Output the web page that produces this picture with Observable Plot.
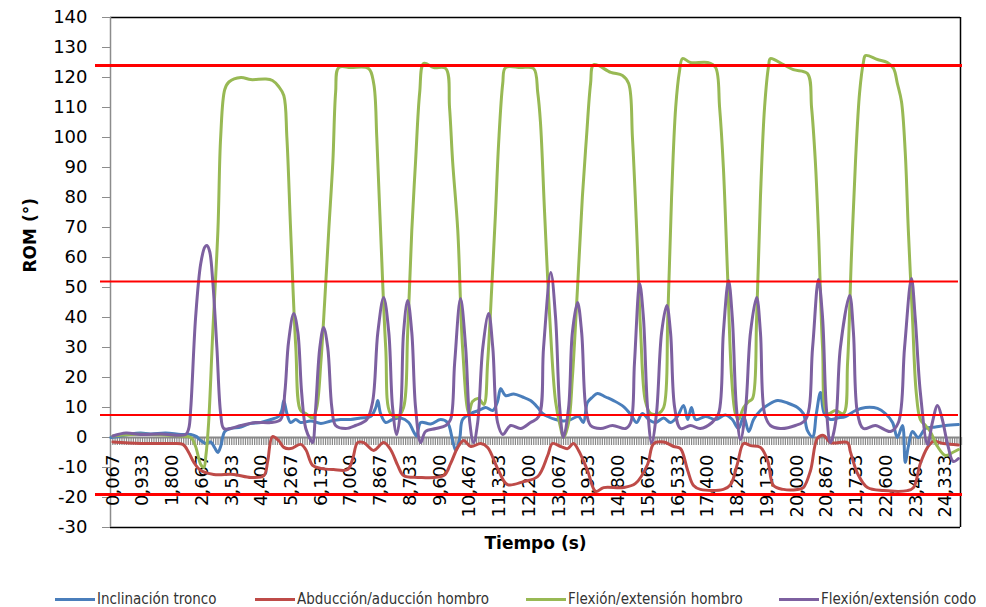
<!DOCTYPE html>
<html>
<head>
<meta charset="utf-8">
<script src="https://cdn.jsdelivr.net/npm/d3@7"></script>
<script src="https://cdn.jsdelivr.net/npm/@observablehq/plot@0.6"></script>
<style>
  html, body { margin: 0; padding: 0; background: #fff; }
  #wrap { width: 986px; height: 607px; position: relative; overflow: hidden; }
  #legend { position: relative; width: 986px; height: 47px; font-family: "DejaVu Sans Condensed", "DejaVu Sans", sans-serif; font-stretch: condensed; font-size: 15px; color: #333; }
  .sw { position: absolute; top: 38px; height: 3px; width: 40px; }
  .lt { position: absolute; top: 30px; line-height: 18px; white-space: nowrap; }
</style>
</head>
<body>
<div id="wrap">
  <div id="chart"></div>
  <div id="legend"></div>
</div>
<script>
// ---- data (time in s, ROM in degrees) ----
const seriesNames = ["Inclinación tronco", "Abducción/aducción hombro", "Flexión/extensión hombro", "Flexión/extensión codo"];
const seriesColors = ["#4a7ebb", "#be4b48", "#98b954", "#7d60a0"];

const inclinacionTronco = [
  [0.01,0],[0.30,0.5],[0.59,1.2],[0.88,1.5],[1.17,1.2],[1.61,1.5],[2.05,1],[2.34,1],[2.51,0.3],[2.63,-1],
  [2.78,-2],[2.92,-1.5],[3.04,-3.5],[3.13,-5],[3.21,-3],[3.33,2],[3.50,3],[3.80,3.5],[4.09,4.7],[4.38,5],
  [4.67,6],[4.90,7],[4.99,9],[5.05,12.3],[5.14,8],[5.25,5],[5.40,6],[5.54,5],[5.84,5.5],[6.13,4.7],
  [6.42,5.5],[6.71,6],[7.00,6],[7.29,6.5],[7.58,7],[7.73,10],[7.79,12.3],[7.87,8],[8.02,5],[8.22,6],
  [8.46,6.5],[8.69,5],[8.83,2],[8.92,0.5],[9.04,5],[9.33,4.5],[9.62,6],[9.82,5],[9.97,-1],[10.06,-4.3],
  [10.18,0],[10.26,6],[10.50,8],[10.73,9],[10.93,10],[11.14,9],[11.28,12],[11.37,16.3],[11.51,14],[11.75,14.5],
  [12.01,13.5],[12.24,12.3],[12.45,10],[12.59,8],[12.74,7],[12.97,6],[13.20,5.5],[13.41,6],[13.64,7],[13.78,5],
  [13.90,11.7],[14.05,13.5],[14.19,14.7],[14.43,13.5],[14.66,12.3],[14.95,10.3],[15.16,7.7],[15.33,5],[15.50,8],[15.68,6],
  [15.88,5],[16.12,6.5],[16.32,5],[16.52,7],[16.70,10.7],[16.82,6],[16.93,10],[17.05,6],[17.34,7],[17.63,6],
  [17.92,7.5],[18.12,6],[18.30,3],[18.45,7],[18.60,2],[18.74,6],[18.94,9],[19.18,11],[19.44,12.3],[19.73,11.5],
  [20.02,10],[20.19,8],[20.31,2.3],[20.46,0.3],[20.57,8],[20.69,15],[20.80,8],[20.98,6],[21.19,6.5],[21.42,7],
  [21.71,9],[22.00,10],[22.35,9.7],[22.58,8],[22.79,5],[22.93,0],[23.08,4],[23.16,-8.3],[23.25,-3],[23.37,2],
  [23.54,0],[23.75,3],[24.04,3.5],[24.33,4],[24.71,4.3]
];

const abduccionHombro = [
  [0.07,-1.5],[0.88,-2],[1.76,-2],[2.11,-2.3],[2.28,-5],[2.43,-8.3],[2.63,-11],[3.01,-12.3],[3.59,-12.3],[4.09,-13.3],
  [4.47,-12.7],[4.58,-8],[4.72,0.3],[4.90,-1],[5.05,-3.3],[5.25,-3.7],[5.54,-2.3],[5.69,-4],[5.89,-9.3],[6.13,-10.3],
  [6.50,-10.7],[6.91,-10.7],[7.06,-7],[7.20,-1.7],[7.38,-1.7],[7.67,-4.3],[7.96,-1.7],[8.16,-4],[8.37,-9.3],[8.54,-12.7],
  [8.95,-13.3],[9.71,-12.7],[9.91,-8.7],[10.12,-3.3],[10.29,-1],[10.50,-3],[10.79,-2],[10.99,-3.3],[11.28,-10.3],[11.57,-15.7],
  [12.04,-14.7],[12.45,-13],[12.74,-6],[12.88,-2],[13.12,-3],[13.32,-3.7],[13.49,-2],[13.64,-4.3],[13.90,-11],[14.14,-18],
  [14.37,-16.7],[14.95,-16.7],[15.30,-15.3],[15.65,-9],[15.83,-2],[16.12,-1.5],[16.41,-3],[16.61,-3.7],[16.82,-11],[16.99,-16],
  [17.19,-17.3],[17.86,-17.3],[18.07,-15.7],[18.27,-8.7],[18.45,-2],[18.65,-2.7],[18.94,-3.3],[19.15,-7.7],[19.32,-16],[19.61,-17.3],
  [20.02,-17.3],[20.19,-16.7],[20.40,-11],[20.60,-0.3],[20.78,0.7],[20.98,-1.7],[21.48,-1.7],[21.56,-4.7],[21.77,-12],[22.06,-16.7],
  [22.53,-17.7],[23.22,-17.7],[23.40,-16.7],[23.60,-8.7],[23.81,-3.3],[23.98,-1.3],[24.27,-2],[24.71,-2.5]
];

const flexionHombro = [
  [0.07,0.5],[0.59,1],[1.17,1],[2.05,0.5],[2.34,0],[2.48,-3],[2.63,-9],[2.72,-10],[2.78,-6],[2.86,5],
  [2.98,35],[3.13,69],[3.21,100],[3.33,116],[3.45,118.5],[3.80,120],[4.09,119.3],[4.52,119.5],[4.72,119],[4.90,117],
  [5.05,114],[5.14,100],[5.25,69],[5.40,30],[5.54,9],[5.69,8],[5.89,6.5],[6.01,10],[6.13,25],[6.24,45],
  [6.36,69],[6.48,92],[6.56,115],[6.65,123.3],[7.00,123.3],[7.52,123],[7.67,118],[7.76,100],[7.87,69],[8.02,30],
  [8.16,8],[8.37,7],[8.54,10],[8.66,35],[8.78,69],[8.89,92],[9.01,115],[9.13,124.7],[9.42,123.3],[9.77,123],
  [9.88,110],[9.97,92],[10.12,69],[10.26,30],[10.44,8],[10.55,12],[10.73,13],[10.88,11],[10.99,25],[11.11,50],
  [11.22,75],[11.31,98],[11.43,118],[11.51,123.3],[11.95,123.3],[12.33,123],[12.45,115],[12.53,105],[12.65,75],[12.80,40],
  [12.97,12],[13.12,3],[13.20,0],[13.35,5],[13.46,20],[13.61,50],[13.75,80],[13.87,100],[13.99,118],[14.08,124.3],
  [14.58,121.7],[14.92,120.7],[15.10,118],[15.21,100],[15.33,70],[15.45,35],[15.59,12],[15.74,8],[15.97,8],[16.12,10],
  [16.24,40],[16.35,80],[16.47,110],[16.58,122],[16.67,126.3],[16.90,125],[17.40,125],[17.63,123.4],[17.75,110],[17.86,90],
  [17.98,55],[18.10,20],[18.21,8],[18.30,6],[18.45,10],[18.60,12],[18.71,13],[18.83,40],[18.94,80],[19.06,110],
  [19.18,124],[19.23,126.3],[19.61,124.3],[19.90,122.6],[20.31,121.3],[20.43,110],[20.54,92],[20.63,69],[20.75,30],[20.89,8],
  [21.13,9],[21.36,8],[21.48,25],[21.59,60],[21.71,92],[21.83,115],[21.94,125],[22.00,127.3],[22.35,126],[22.64,125],
  [22.82,123],[22.93,118],[23.05,112],[23.16,95],[23.25,69],[23.37,40],[23.48,15],[23.60,6],[23.75,4],[23.89,2],
  [24.10,-3],[24.33,-6],[24.54,-5],[24.71,-4]
];

const flexionCodo = [
  [0.07,0.5],[0.45,1.5],[0.88,1],[1.47,1.2],[2.19,1],[2.28,3],[2.34,10],[2.48,40],[2.63,58],[2.75,63.5],
  [2.81,64],[2.89,62],[2.98,52],[3.10,30],[3.21,8],[3.30,3],[3.50,3],[3.80,4],[4.23,5],[4.67,5],
  [4.96,6],[5.08,15],[5.19,32],[5.34,41.3],[5.46,35],[5.57,15],[5.69,3],[5.84,-1],[5.89,-1.7],[5.98,10],
  [6.10,30],[6.21,36.7],[6.33,30],[6.45,10],[6.56,4],[6.85,3],[7.14,4],[7.47,6],[7.64,12],[7.79,35],
  [7.96,46.7],[8.11,35],[8.22,10],[8.34,1],[8.46,10],[8.54,35],[8.66,45.7],[8.78,35],[8.89,10],[9.04,-1.7],
  [9.18,2],[9.48,3],[9.77,4],[9.91,6],[10.03,25],[10.20,46.3],[10.35,30],[10.47,5],[10.58,-1.7],[10.70,5],
  [10.85,30],[11.02,41.3],[11.14,30],[11.28,5],[11.43,1],[11.66,4],[11.95,3],[12.24,5],[12.48,7],[12.62,30],
  [12.83,55],[12.97,40],[13.09,10],[13.20,0],[13.35,10],[13.46,35],[13.61,45],[13.73,35],[13.85,10],[13.99,4],
  [14.28,3],[14.63,4],[15.01,3],[15.16,5],[15.27,25],[15.42,51.3],[15.53,40],[15.65,10],[15.77,-1.7],[15.91,8],
  [16.06,35],[16.21,44],[16.32,35],[16.44,10],[16.61,3],[16.90,4],[17.19,3],[17.53,5],[17.72,8],[17.86,35],
  [18.01,52.3],[18.12,40],[18.24,10],[18.36,-0.7],[18.51,10],[18.65,35],[18.83,46.7],[18.94,35],[19.06,8],[19.23,4],
  [19.52,3],[19.96,4],[20.26,6],[20.46,30],[20.63,52.7],[20.75,40],[20.86,10],[20.98,-1.7],[21.13,5],[21.27,30],
  [21.54,47.3],[21.65,35],[21.77,8],[21.94,3],[22.29,4],[22.73,2],[22.96,5],[23.14,30],[23.34,53],[23.45,40],
  [23.60,15],[23.81,-2.3],[23.95,5],[24.10,10.7],[24.24,6],[24.39,-2],[24.56,-8],[24.71,-7]
];

const xTickValues = [0.067,0.933,1.800,2.667,3.533,4.400,5.267,6.133,7.000,7.867,8.733,9.600,10.467,11.333,12.200,
  13.067,13.933,14.800,15.667,16.533,17.400,18.267,19.133,20.000,20.867,21.733,22.600,23.467,24.333];
const xTickLabels = ["0,067","0,933","1,800","2,667","3,533","4,400","5,267","6,133","7,000","7,867","8,733","9,600",
  "10,467","11,333","12,200","13,067","13,933","14,800","15,667","16,533","17,400","18,267","19,133","20,000",
  "20,867","21,733","22,600","23,467","24,333"];
const yTicks = [-30,-20,-10,0,10,20,30,40,50,60,70,80,90,100,110,120,130,140];
const thickRefLines = [124, -19];
const thinRefLines = [52, 7.5];
const sampleCount = 372;      // one category per sample (1/15 s)
const sampleRate = 15;

// ---- build ----
const allSeries = [inclinacionTronco, abduccionHombro, flexionHombro, flexionCodo];
const rows = allSeries.flatMap((s, k) => s.map(([t, v]) => ({t, v, serie: seriesNames[k]})));
const xLabelRows = xTickValues.map((t, i) => ({t, label: xTickLabels[i]}));
const categoryTicks = d3.range(1, sampleCount + 1).map(i => i / sampleRate);

const xDomain = [0, 24.77];
const yDomain = [-30, 140];

const chart = Plot.plot({
  width: 986,
  height: 560,
  marginLeft: 110,
  marginRight: 26,
  marginTop: 17,
  marginBottom: 33,
  style: {fontFamily: "'DejaVu Sans', Verdana, sans-serif", fontSize: "18px", color: "#000", background: "#fff"},
  x: {domain: xDomain, axis: null},
  y: {domain: yDomain, axis: null},
  color: {domain: seriesNames, range: seriesColors},
  marks: [
    Plot.axisY({ticks: yTicks, tickSize: 8, tickPadding: 15, stroke: "#8c8c8c", tickFormat: d => String(d), fontSize: 18, label: null}),
    // plot area border
    Plot.ruleY([yDomain[1], yDomain[0]], {stroke: "#000", strokeWidth: 1.5}),
    Plot.ruleX([xDomain[1]], {stroke: "#000", strokeWidth: 1.5}),
    Plot.ruleX([xDomain[0]], {stroke: "#8c8c8c", strokeWidth: 1.5}),
    // zero axis with category ticks
    Plot.ruleX(categoryTicks, {x: d => d, y1: () => 0, y2: () => 0, insetBottom: -8, stroke: "#888", strokeWidth: 1.2}),
    Plot.ruleY([0], {stroke: "#888", strokeWidth: 2}),
    Plot.text(xLabelRows, {x: "t", y: () => 0, text: "label", rotate: -90, textAnchor: "end", dy: 17, fontSize: 18, fill: "#000"}),
    // series
    Plot.line(rows, {x: "t", y: "v", z: "serie", stroke: "serie", strokeWidth: 3, curve: "catmull-rom"}),
    // reference lines
    Plot.ruleY(thinRefLines, {stroke: "#ff0000", strokeWidth: 1.8, insetLeft: -10, insetRight: 2}),
    Plot.ruleY(thickRefLines, {stroke: "#ff0000", strokeWidth: 2.8, insetLeft: -15, insetRight: -2}),
    // axis titles
    Plot.text(["Tiempo (s)"], {frameAnchor: "bottom", dy: 21, fontSize: 17, fontWeight: "bold", fill: "#000"}),
    Plot.text(["ROM (°)"], {frameAnchor: "left", dx: -80, rotate: -90, fontSize: 17, fontWeight: "bold", fill: "#000"})
  ]
});
document.getElementById("chart").appendChild(chart);

// legend
const legend = document.getElementById("legend");
const swatchLeft = [55, 255, 526, 779];
seriesNames.forEach((name, i) => {
  const sw = document.createElement("div");
  sw.className = "sw";
  sw.style.left = swatchLeft[i] + "px";
  sw.style.background = seriesColors[i];
  legend.appendChild(sw);
  const lt = document.createElement("div");
  lt.className = "lt";
  lt.style.left = (swatchLeft[i] + 42) + "px";
  lt.textContent = name;
  legend.appendChild(lt);
});
</script>
</body>
</html>
